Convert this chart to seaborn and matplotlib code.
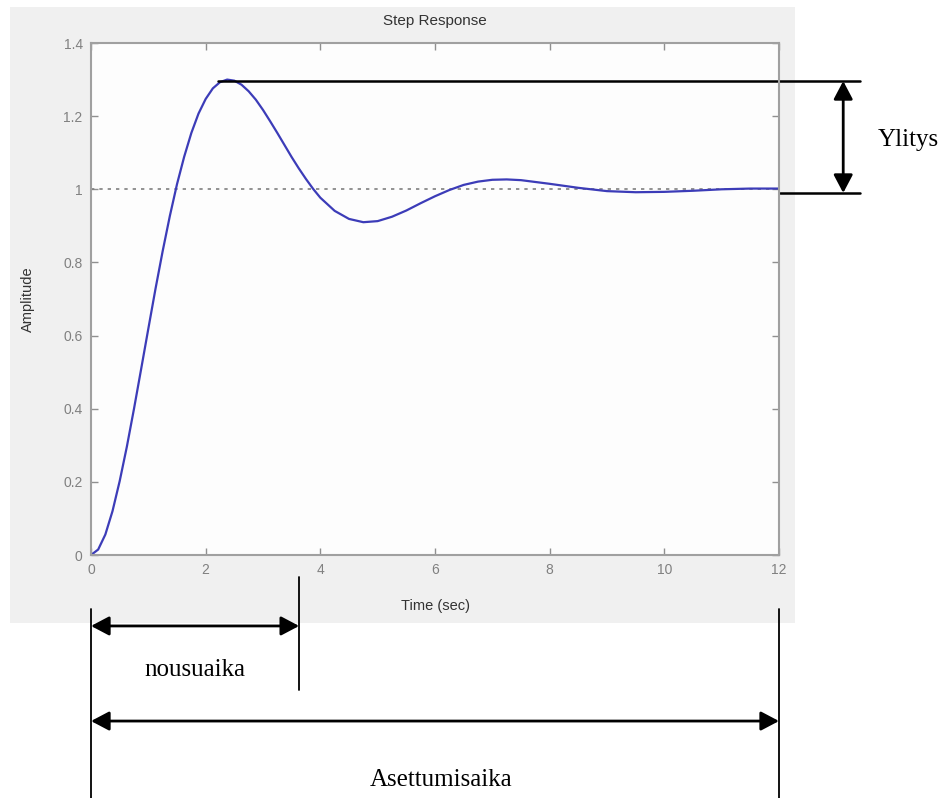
import numpy as np
import pandas as pd
import matplotlib.pyplot as plt
import matplotlib.patches as mpatches
import seaborn as sns

# step response values (time in sec, amplitude)
time_sec = [0, 0.125, 0.25, 0.375, 0.5, 0.625, 0.75, 0.875, 1.0, 1.125, 1.25, 1.375,
            1.5, 1.625, 1.75, 1.875, 2.0, 2.125, 2.25, 2.375, 2.5, 2.625, 2.75, 2.875,
            3.0, 3.125, 3.25, 3.375, 3.5, 3.625, 3.75, 3.875, 4.0, 4.25, 4.5, 4.75,
            5.0, 5.25, 5.5, 5.75, 6.0, 6.25, 6.5, 6.75, 7.0, 7.25, 7.5, 7.75,
            8.0, 8.5, 9.0, 9.5, 10.0, 10.5, 11.0, 11.5, 12.0]
amplitude = [0.0, 0.015, 0.056, 0.120, 0.202, 0.296, 0.400, 0.509, 0.619, 0.728,
             0.831, 0.927, 1.014, 1.089, 1.154, 1.207, 1.247, 1.276, 1.293, 1.300,
             1.297, 1.286, 1.268, 1.245, 1.217, 1.186, 1.154, 1.121, 1.088, 1.057,
             1.028, 1.001, 0.977, 0.941, 0.919, 0.910, 0.913, 0.925, 0.942, 0.962,
             0.981, 0.998, 1.012, 1.021, 1.026, 1.027, 1.025, 1.020, 1.015, 1.004,
             0.995, 0.992, 0.993, 0.996, 1.000, 1.002, 1.002]

x_ticks = [0, 2, 4, 6, 8, 10, 12]
x_tick_labels = ['0', '2', '4', '6', '8', '10', '12']
y_ticks = [0, 0.2, 0.4, 0.6, 0.8, 1.0, 1.2, 1.4]
y_tick_labels = ['0', '0.2', '0.4', '0.6', '0.8', '1', '1.2', '1.4']

# annotation values (data units)
peak_time = 2.215
peak_value = 1.296
final_value = 0.99
rise_time = 3.63
settling_time = 12.0

df = pd.DataFrame({'Time': time_sec, 'Amplitude': amplitude})

sns.set_theme(style='white')
plt.rcParams['font.family'] = ['Liberation Sans', 'DejaVu Sans']

fig = plt.figure(figsize=(9.47, 7.98), dpi=100)
fig.patch.set_facecolor('white')

# light grey matlab figure area, behind everything
fig.patches.append(mpatches.Rectangle((0.0106, 0.2193), 0.829, 0.772,
                                      transform=fig.transFigure, facecolor='#f0f0f0',
                                      edgecolor='none', zorder=-5))

ax = fig.add_axes([0.0961, 0.3045, 0.7265, 0.6416])
ax.set_zorder(2)
ax.set_facecolor('#fdfdfd')

sns.lineplot(x='Time', y='Amplitude', data=df, color='#3c3cb8', linewidth=1.6, ax=ax)
ax.axhline(1.0, color='#808080', linestyle=(0, (2, 3)), linewidth=1.2, zorder=1)

ax.set_xlim(0, 12)
ax.set_ylim(0, 1.4)
ax.set_xticks(x_ticks)
ax.set_xticklabels(x_tick_labels)
ax.set_yticks(y_ticks)
ax.set_yticklabels(y_tick_labels)
ax.tick_params(direction='in', length=5, width=1, colors='#909090', labelcolor='#808080',
               labelsize=10, top=True, right=True, bottom=True, left=True, pad=6)
for s in ax.spines.values():
    s.set_color('#a0a0a0')
    s.set_linewidth(1.5)

ax.set_xlabel('Time (sec)', fontsize=10.5, color='#333333')
ax.set_ylabel('Amplitude', fontsize=10.5, color='#333333')
ax.xaxis.set_label_coords(0.5, -0.086)
ax.yaxis.set_label_coords(-0.081, 0.5)
ax.text(0.5, 1.043, 'Step Response', transform=ax.transAxes, ha='center', va='center',
        fontsize=11, color='#333333')

# annotations outside the axes
line_kw = dict(color='black', clip_on=False)
ax.plot([peak_time, 13.41], [peak_value, peak_value], lw=1.8, **line_kw)
ax.plot([12.02, 13.41], [final_value, final_value], lw=1.8, **line_kw)
ax.plot([0, 0], [-0.148, -0.664], lw=1.3, **line_kw)
ax.plot([settling_time, settling_time], [-0.148, -0.664], lw=1.3, **line_kw)
ax.plot([rise_time, rise_time], [-0.060, -0.369], lw=1.3, **line_kw)

arrow = dict(arrowstyle='<|-|>,head_length=0.55,head_width=0.29', color='black', lw=2,
             mutation_scale=20, shrinkA=0, shrinkB=0)
ax.annotate('', xy=(13.12, final_value), xytext=(13.12, peak_value),
            arrowprops=arrow, annotation_clip=False)
ax.annotate('', xy=(0, -0.194), xytext=(rise_time, -0.194),
            arrowprops=arrow, annotation_clip=False)
ax.annotate('', xy=(0, -0.454), xytext=(settling_time, -0.454),
            arrowprops=arrow, annotation_clip=False)

serif = ['Liberation Serif', 'DejaVu Serif']
ax.text(13.73, 1.135, 'Ylitys', family=serif, fontsize=18, ha='left', va='center',
        color='black', clip_on=False)
ax.text(1.81, -0.314, 'nousuaika', family=serif, fontsize=18, ha='center', va='center',
        color='black', clip_on=False)
ax.text(6.1, -0.615, 'Asettumisaika', family=serif, fontsize=18, ha='center', va='center',
        color='black', clip_on=False)

plt.savefig('out.png', dpi=100)
plt.close()
